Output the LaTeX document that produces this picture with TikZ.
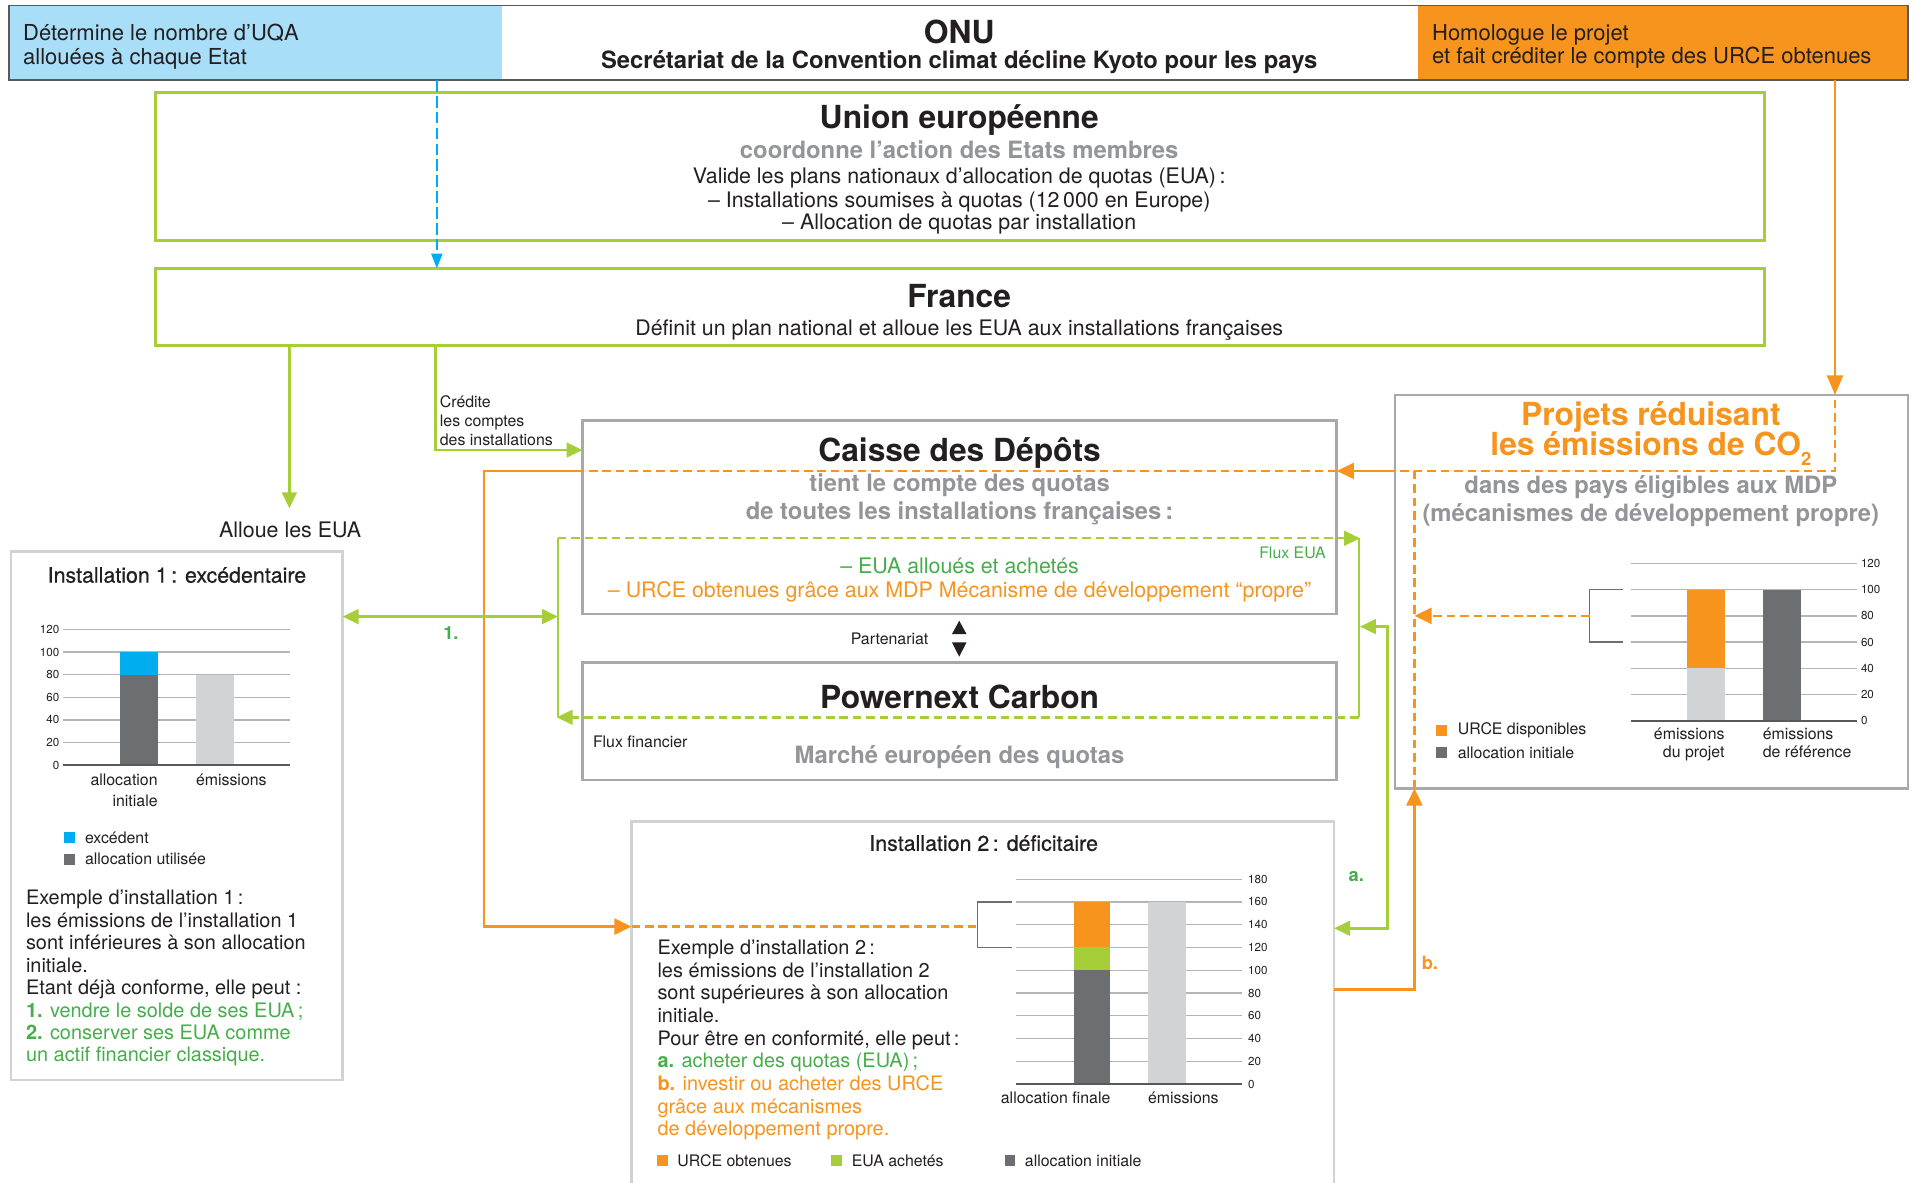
\documentclass[tikz,border=0pt]{standalone}
\usepackage{fontspec}
\setmainfont{TeX Gyre Heros}
\newfontfamily\medfont[FakeBold=0.6]{TeX Gyre Heros}
\usetikzlibrary{arrows.meta}
\definecolor{cOrange}{HTML}{F7941D}
\definecolor{cLime}{HTML}{A6CE39}
\definecolor{cGreenTxt}{HTML}{45AE4A}
\definecolor{cCyan}{HTML}{00AEEF}
\definecolor{cBlueFill}{HTML}{A8DEF7}
\definecolor{cGreyBox}{HTML}{A7A9AC}
\definecolor{cGreyBoxL}{HTML}{D0D2D3}
\definecolor{cGreyTxt}{HTML}{939598}
\definecolor{cDark}{HTML}{6D6E71}
\definecolor{cLight}{HTML}{D1D3D4}
\definecolor{cGrid}{HTML}{B3B5B8}
\definecolor{cAxis}{HTML}{58595B}
\definecolor{cInk}{HTML}{231F20}
\newcommand\fsz[2]{\fontsize{#1}{#2}\selectfont}
\begin{document}
\begin{tikzpicture}[x=1pt,y=-1pt,
  txt/.style={inner sep=0pt, outer sep=0pt, text=cInk},
  bigtitle/.style={txt, font=\bfseries\fsz{26}{30}, yshift=-1.5pt},
  greysub/.style={txt, text=cGreyTxt, font=\bfseries\fsz{19.5}{23}, yshift=-1.5pt},
  body/.style={txt, font=\fsz{17.5}{20}, yshift=-1.5pt},
  small/.style={txt, font=\fsz{13}{15.4}},
  tick/.style={txt, font=\fsz{9.5}{10}},
  lbl/.style={txt, font=\bfseries\fsz{15}{15}},
  greenbox/.style={draw=cLime, line width=2.6pt, inner sep=0pt, outer sep=0pt, anchor=north west},
  greybox/.style={draw=cGreyBox, line width=2.2pt, inner sep=0pt, outer sep=0pt, anchor=north west},
  greyboxl/.style={draw=cGreyBoxL, line width=2pt, inner sep=0pt, outer sep=0pt, anchor=north west},
  barcell/.style={inner sep=0pt, outer sep=0pt, anchor=north west, minimum height=61pt},
  conn/.style={line width=2pt},
  dsh/.style={dash pattern=on 7pt off 4pt},
  arrG/.style={-{Triangle[length=13pt,width=12pt]}},
  arrO/.style={-{Triangle[length=14pt,width=13pt]}},
  dblG/.style={{Triangle[length=13pt,width=12pt]}-{Triangle[length=13pt,width=12pt]}},
  grid/.style={cGrid, line width=1.1pt},
  axisl/.style={cAxis, line width=1.4pt},
  brack/.style={cDark, line width=1.1pt}
]
\useasboundingbox (0,0) rectangle (1568,968);
\fill[white] (0,0) rectangle (1568,968);

% ---------- top bar ----------
\node[barcell, fill=cBlueFill, minimum width=403.4pt] (uqa) at (7.5,4.5) {};
\node[barcell, minimum width=749.7pt] (onu) at (uqa.north east) {};
\node[barcell, fill=cOrange, minimum width=400.9pt] (hom) at (onu.north east) {};
\draw[cAxis, line width=1.5pt] (uqa.north west) rectangle (hom.south east);
\node[txt, anchor=north west, align=left, font=\fsz{18}{19.1}] (uqat) at (19,20) {Détermine le nombre d’UQA\\allouées à chaque Etat};
\node[bigtitle] (onut) at (785,25) {ONU};
\node[txt, font=\bfseries\fsz{19.5}{23}] (sect) at (785,51) {Secrétariat de la Convention climat décline Kyoto pour les pays};
\node[txt, anchor=north west, align=left, font=\fsz{18}{19.1}] (homt) at (1172,20) {Homologue le projet\\et fait créditer le compte des URCE obtenues};

% ---------- EU ----------
\node[greenbox, minimum width=1316.3pt, minimum height=121.4pt] (eu) at (127.4,75.6) {};
\node[bigtitle] (eut) at (785,96.8) {Union européenne};
\node[greysub] (eus) at (785,121.4) {coordonne l’action des Etats membres};
\node[body] (eu1) at (785,143.8) {Valide les plans nationaux d’allocation de quotas (EUA)\,:};
\node[body] (eu2) at (785,163.7) {– Installations soumises à quotas (12\,000 en Europe)};
\node[body] (eu3) at (785,182) {– Allocation de quotas par installation};

% ---------- France ----------
\node[greenbox, minimum width=1316.3pt, minimum height=63.3pt] (france) at (127.4,219.6) {};
\node[bigtitle] (frt) at (785,240.9) {France};
\node[body] (fr1) at (785,268.7) {Définit un plan national et alloue les EUA aux installations françaises};

% ---------- Caisse des Depots ----------
\node[greybox, minimum width=617.3pt, minimum height=158.3pt] (caisse) at (476.7,344.2) {};
\node[bigtitle] (cat) at (785.3,369.6) {Caisse des Dépôts};
\node[greysub] (ca1) at (785.3,395.5) {tient le compte des quotas};
\node[greysub] (ca2) at (785.3,418.7) {de toutes les installations françaises\,:};
\node[small, text=cGreenTxt, anchor=east] (fluxeua) at (1085,452.3) {Flux EUA};
\node[body, text=cGreenTxt] (ca3) at (785.3,461.6) {– EUA alloués et achetés};
\node[body, text=cOrange] (ca4) at (785.3,482.8) {– URCE obtenues grâce aux MDP Mécanisme de développement “propre”};

% ---------- Partenariat ----------
\node[small] (part) at (728,523.2) {Partenariat};
\fill[cInk] (779,519) -- (791,519) -- (785,508) -- cycle;
\fill[cInk] (779,525.6) -- (791,525.6) -- (785,537.4) -- cycle;

% ---------- Powernext ----------
\node[greybox, minimum width=617.3pt, minimum height=96pt] (pnx) at (476.7,542.3) {};
\node[bigtitle] (pnt) at (785.3,568.7) {Powernext Carbon};
\node[small, anchor=west] (fluxfin) at (485.3,607) {Flux financier};
\node[greysub] (pn1) at (785.3,617.8) {Marché européen des quotas};

% ---------- Projets ----------
\node[greybox, minimum width=420pt, minimum height=322pt] (proj) at (1141.5,323.2) {};
\node[txt, text=cOrange, font=\bfseries\fsz{26}{30}] (prt1) at (1351,341.5) {Projets réduisant};
\node[txt, text=cOrange, font=\bfseries\fsz{26}{30}] (prt2) at (1351,367) {les émissions de CO\raisebox{-0.3em}{\fsz{15}{15}2}};
\node[greysub] (prs1) at (1351,397) {dans des pays éligibles aux MDP};
\node[greysub] (prs2) at (1351,420) {(mécanismes de développement propre)};

\begin{scope}[shift={(0,590)}, y=1.075pt]
  \foreach \v in {20,40,...,120} \draw[grid] (1335,\v) -- (1520,\v);
  \fill[cLight] (1380.5,0) rectangle (1411.3,40);
  \fill[cOrange] (1380.5,40) rectangle (1411.3,100);
  \fill[cDark] (1442.6,0) rectangle (1474,100);
  \draw[axisl] (1335,0) -- (1520,0);
  \foreach \v in {0,20,...,120} \node[tick, anchor=west] (tp\v) at (1523,\v) {\v};
  \draw[brack] (1328,100) -- (1301,100) -- (1301,60) -- (1328,60);
\end{scope}
\node[txt, font=\fsz{13}{14.8}, align=right, anchor=north east] (prx1) at (1411.3,595.5) {émissions\\du projet};
\node[txt, font=\fsz{13}{14.8}, align=left, anchor=north west] (prx2) at (1442.6,595.5) {émissions\\de référence};
\fill[cOrange] (1175,593) rectangle (1184,602.5);
\node[small, anchor=west] (prl1) at (1193,598) {URCE disponibles};
\fill[cDark] (1175,611) rectangle (1184,620.5);
\node[small, anchor=west] (prl2) at (1193,616) {allocation initiale};

% ---------- Installation 1 ----------
\node[greyboxl, minimum width=271.2pt, minimum height=432.6pt] (inst1) at (9.2,451.4) {};
\node[txt, font=\medfont\fsz{17.5}{20}] (i1t) at (144.8,470.6) {Installation 1\,: excédentaire};
\begin{scope}[shift={(0,626.2)}, y=0.926pt]
  \foreach \v in {20,40,...,120} \draw[grid] (51.8,\v) -- (237.3,\v);
  \fill[cDark] (98.2,0) rectangle (129,80);
  \fill[cCyan] (98.2,80) rectangle (129,100);
  \fill[cLight] (160.4,0) rectangle (191.5,80);
  \draw[axisl] (51.8,0) -- (237.3,0);
  \foreach \v in {0,20,...,120} \node[tick, anchor=east] (ta\v) at (48.5,\v) {\v};
\end{scope}
\node[txt, font=\fsz{13}{17}, align=right, anchor=north east] (i1x1) at (129,633.5) {allocation\\initiale};
\node[txt, font=\fsz{13}{17}, anchor=north west] (i1x2) at (160.4,633.5) {émissions};
\fill[cCyan] (52.4,680.7) rectangle (61.4,689.9);
\node[small, anchor=west] (i1l1) at (69.6,685.3) {excédent};
\fill[cDark] (52.4,699) rectangle (61.4,708);
\node[small, anchor=west] (i1l2) at (69.6,703) {allocation utilisée};
\node[txt, anchor=north west, align=left, font=\fsz{16.3}{18.4}] (ex1) at (21.3,728.4) {Exemple d’installation 1\,:\\les émissions de l’installation 1\\sont inférieures à son allocation\\initiale.\\Etant déjà conforme, elle peut :\\\textcolor{cGreenTxt}{\textbf{1.} vendre le solde de ses EUA\,;}\\\textcolor{cGreenTxt}{\textbf{2.} conserver ses EUA comme}\\\textcolor{cGreenTxt}{un actif financier classique.}};

% ---------- Installation 2 ----------
\node[greyboxl, minimum width=575pt, minimum height=320pt] (inst2) at (516.8,672.4) {};
\node[txt, font=\medfont\fsz{17.5}{20}] (i2t) at (805,690) {Installation 2\,: déficitaire};
\begin{scope}[shift={(0,887.1)}, y=0.931pt]
  \foreach \v in {20,40,...,180} \draw[grid] (831.3,\v) -- (1016.4,\v);
  \fill[cDark] (878.6,0) rectangle (908.7,100);
  \fill[cLime] (878.6,100) rectangle (908.7,120);
  \fill[cOrange] (878.6,120) rectangle (908.7,160);
  \fill[cLight] (939.5,0) rectangle (970.3,160);
  \draw[axisl] (831.3,0) -- (1016.4,0);
  \foreach \v in {0,20,...,180} \node[tick, anchor=west] (tb\v) at (1021.5,\v) {\v};
  \draw[brack] (827.8,160) -- (799.7,160) -- (799.7,120) -- (827.8,120);
\end{scope}
\node[txt, font=\fsz{13}{15}, anchor=east] (i2x1) at (908.7,898.8) {allocation finale};
\node[txt, font=\fsz{13}{15}, anchor=west] (i2x2) at (939.5,898.8) {émissions};
\node[txt, anchor=north west, align=left, font=\fsz{16.3}{18.55}] (ex2) at (538.1,769.2) {Exemple d’installation 2\,:\\les émissions de l’installation 2\\sont supérieures à son allocation\\initiale.\\Pour être en conformité, elle peut\,:\\\textcolor{cGreenTxt}{\textbf{a.} acheter des quotas (EUA)\,;}\\\textcolor{cOrange}{\textbf{b.} investir ou acheter des URCE}\\\textcolor{cOrange}{grâce aux mécanismes}\\\textcolor{cOrange}{de développement propre.}};
\fill[cOrange] (538,945.4) rectangle (546.8,954.2);
\node[small, anchor=west] (i2l1) at (554.3,949.8) {URCE obtenues};
\fill[cLime] (680.2,945.4) rectangle (688.9,954.2);
\node[small, anchor=west] (i2l2) at (697.1,949.8) {EUA achetés};
\fill[cDark] (822.3,945.4) rectangle (830.8,954.2);
\node[small, anchor=west] (i2l3) at (838.8,949.8) {allocation initiale};

% ---------- labels ----------
\node[txt, font=\fsz{17.5}{20}] (alloue) at (237.4,433.7) {Alloue les EUA};
\node[small, anchor=north west, align=left] (credite) at (360,323.8) {Crédite\\les comptes\\des installations};
\node[lbl, text=cGreenTxt] (l1) at (369,518.3) {1.};
\node[lbl, text=cGreenTxt] (la) at (1110,717.4) {a.};
\node[lbl, text=cOrange] (lb) at (1170.2,788.3) {b.};

% ---------- connectors ----------
\coordinate (allouetip) at (236.8,416);
\coordinate (bracketO2) at (799.7,758.3);
\coordinate (bracketO3) at (1301,504);
\coordinate (projin) at (1157.5,504);
\coordinate (oTop) at (1501.7,327);
\coordinate (oCorner) at (1501.7,385.4);
\coordinate (oLeft) at (1157.5,385.4);
\coordinate (oBend1) at (396,385.4);
\coordinate (oBend2) at (396,758.3);
\coordinate (fTL) at (456.6,440.5);
\coordinate (fBL) at (456.6,587);
\coordinate (fTR) at (1112,440.5);
\coordinate (fBR) at (1112,587);
\coordinate (fTRtip) at (1113,440.5);
\coordinate (fBLtip) at (455.6,587);
\coordinate (aTop) at (1135.3,512.8);
\coordinate (aTip) at (1113,512.8);
\coordinate (aBot) at (1135.3,759.7);

\draw[cCyan, line width=1.6pt, dash pattern=on 9.5pt off 3.5pt, -{Triangle[length=12pt,width=9pt]}] (uqa.south -| 357.5,0) -- (france.north -| 357.5,0);
\draw[cOrange, conn, -{Triangle[length=16pt,width=13pt]}] (hom.south -| 1501.7,0) -- (proj.north -| 1501.7,0);

\draw[cLime, conn, arrG] (france.south -| 236.8,0) -- (allouetip);
\draw[cLime, conn, arrG] (france.south -| 356.4,0) |- (caisse.west |- 0,368.3);

% orange flows
\draw[cOrange, conn, dsh] (caisse.east |- oBend1) -- (caisse.west |- oBend1);
\draw[cOrange, conn, arrO] (caisse.west |- oBend1) -- (oBend1) -- (oBend2) -- (inst2.west |- oBend2);
\draw[cOrange, conn, dsh] (inst2.west |- oBend2) -- (bracketO2);
\draw[cOrange, conn, dsh] (oTop) -- (oCorner) -- (proj.west |- oCorner);
\draw[cOrange, conn, arrO] (proj.west |- oCorner) -- (caisse.east |- oCorner);
\draw[cOrange, conn, dsh] (oLeft) -- (proj.south -| oLeft);
\draw[cOrange, conn, dsh, arrO] (bracketO3) -- (projin);
\draw[cOrange, conn, arrO] (inst2.east |- 0,809.6) -| (proj.south -| oLeft);

% green flows
\draw[cLime, conn] (fTL) -- (fBL);
\draw[cLime, conn] (fTR) -- (fBR);
\draw[cLime, conn, dsh, arrG] (fTL) -- (fTRtip);
\draw[cLime, conn, dsh, arrG] (fBR) -- (fBLtip);
\draw[cLime, conn, dblG] (inst1.east |- 0,504.6) -- (fTL |- 0,504.6);
\draw[cLime, conn, dblG] (aTip) -- (aTop) -- (aBot) -- (inst2.east |- aBot);
\end{tikzpicture}
\end{document}
